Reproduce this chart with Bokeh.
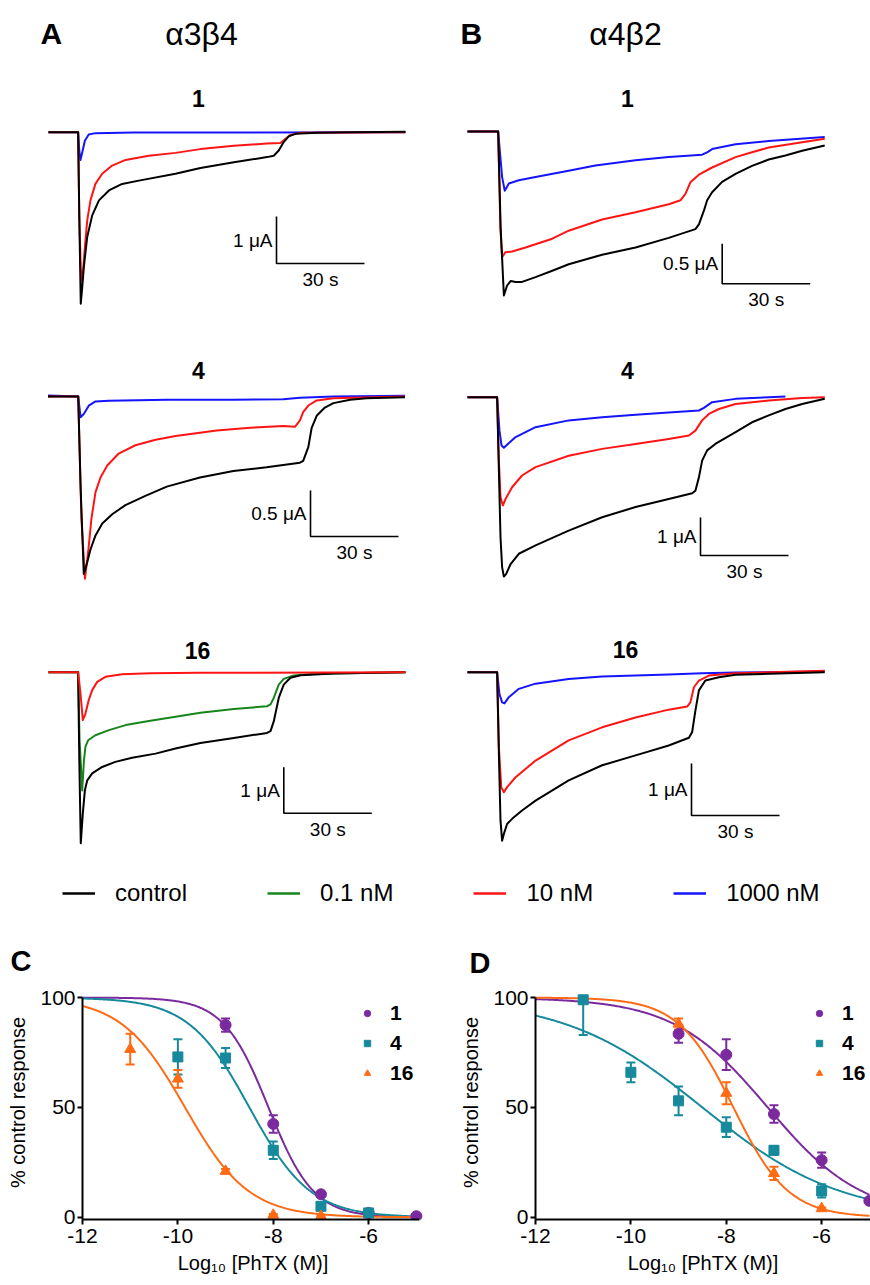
import numpy as np
from bokeh.plotting import figure
from bokeh.layouts import column, row
from bokeh.models import (Range1d, Label, Legend, LegendItem, Whisker, TeeHead,
                          ColumnDataSource, FixedTicker)
from bokeh.embed import file_html
from bokeh.resources import INLINE

FONT = "Liberation Sans"
COL = {"control": "#000000", "0.1 nM": "#17861a", "10 nM": "#ff1414", "1000 nM": "#1414ff"}
DR_COL = {"1": "#7b2a9e", "4": "#168a9c", "16": "#ff6a14"}

# ---------------- traces: time (s) and current (uA) ----------------
A1_control_t = [0, 10.1, 10.5, 11.0, 11.5, 12.05, 13.2, 14.9, 17.2, 20.6, 25.1, 30.8, 43.3, 51.8, 63.2, 74.5, 76.8, 78.5, 80.2, 81.9, 84.2, 91.6, 103, 121.7]
A1_control_i = [0, 0, -1.8, -3.65, -3.3, -2.87, -2.23, -1.77, -1.45, -1.24, -1.10, -1.03, -0.885, -0.76, -0.64, -0.53, -0.50, -0.39, -0.21, -0.09, -0.035, -0.014, 0, 0.01]
A1_10nM_t = [0, 10.1, 10.5, 11.0, 11.5, 12.4, 13.2, 14.3, 16.0, 18.3, 21.7, 26.3, 34.2, 43.3, 51.8, 63.2, 74.5, 79.1, 80.8, 82.5, 85.9, 121.7]
A1_10nM_i = [0, 0, -1.8, -2.9, -3.16, -2.45, -1.88, -1.45, -1.10, -0.885, -0.71, -0.59, -0.50, -0.44, -0.36, -0.29, -0.24, -0.23, -0.14, -0.057, -0.014, 0]
A1_1000nM_t = [0, 10.1, 10.5, 10.9, 11.5, 12.4, 13.7, 16.0, 29.1, 121.7]
A1_1000nM_i = [0, 0, -0.4, -0.59, -0.43, -0.18, -0.05, -0.02, -0.007, 0]

A2_control_t = [0, 10.3, 11.1, 12.2, 13.4, 14.5, 16.2, 18.5, 21.9, 26.4, 33.2, 40.5, 51.8, 63.2, 74.5, 85.9, 87.0, 88.75, 89.9, 91.6, 94.4, 97.3, 103, 108.6, 121.7]
A2_control_i = [0, 0, -0.97, -1.93, -1.80, -1.66, -1.51, -1.38, -1.28, -1.18, -1.08, -0.98, -0.88, -0.81, -0.77, -0.72, -0.70, -0.55, -0.34, -0.21, -0.12, -0.072, -0.036, -0.018, -0.007]
A2_10nM_t = [0, 10.3, 11.4, 12.6, 13.7, 14.8, 16.2, 17.9, 20.2, 24.1, 29.8, 36.7, 43.5, 57.5, 68.9, 80.2, 84.2, 85.9, 87.0, 88.75, 91.6, 97.3, 121.7]
A2_10nM_i = [0, 0, -1.33, -1.98, -1.69, -1.33, -1.04, -0.88, -0.75, -0.62, -0.53, -0.47, -0.43, -0.37, -0.34, -0.32, -0.33, -0.26, -0.17, -0.098, -0.043, -0.018, 0]
A2_1000nM_t = [0, 10.3, 11.1, 12.2, 13.9, 16.2, 20.7, 40.5, 63.2, 80.2, 85.9, 97.3, 121.7]
A2_1000nM_i = [0.01, 0, -0.225, -0.19, -0.10, -0.054, -0.045, -0.036, -0.036, -0.029, -0.014, 0, 0.007]

A3_control_t = [0, 10.1, 10.5, 11.0, 11.7, 12.4, 13.2, 14.9, 18.3, 22.8, 28.5, 36.5, 43.3, 51.8, 63.2, 74.5, 75.7, 76.8, 78.5, 80.2, 82.5, 85.9, 97.3, 121.7]
A3_control_i = [0, 0, -1.9, -3.72, -3.07, -2.57, -2.35, -2.20, -2.06, -1.95, -1.86, -1.77, -1.66, -1.54, -1.43, -1.32, -1.28, -1.07, -0.56, -0.27, -0.12, -0.065, -0.029, 0]
A3_01nM_t = [0, 10.1, 10.6, 11.5, 12.1, 12.6, 13.5, 16.0, 20.6, 26.3, 34.2, 43.3, 51.8, 63.2, 74.5, 75.7, 76.8, 78.5, 80.2, 83.6, 91.6, 121.7]
A3_01nM_i = [0, 0, -1.5, -2.57, -1.91, -1.62, -1.48, -1.37, -1.26, -1.15, -1.06, -0.97, -0.88, -0.80, -0.74, -0.70, -0.56, -0.27, -0.145, -0.072, -0.036, 0]
A3_10nM_t = [0, 10.1, 10.9, 11.7, 12.6, 13.7, 14.9, 16.6, 19.4, 25.1, 34.8, 51.8, 121.7]
A3_10nM_i = [0, 0, -0.46, -1.04, -0.90, -0.61, -0.39, -0.21, -0.10, -0.043, -0.025, -0.014, 0]

B1_control_t = [0, 10.45, 11.3, 12.4, 13.5, 14.7, 16.4, 18.6, 23.2, 28.9, 34.5, 45.9, 57.3, 68.6, 77.7, 78.9, 80.6, 81.7, 83.4, 86.8, 91.4, 97.0, 102.7, 108.4, 114.1, 121.8]
B1_control_i = [0, 0, -1.2, -2.05, -1.925, -1.87, -1.88, -1.88, -1.82, -1.74, -1.66, -1.54, -1.45, -1.33, -1.22, -1.16, -0.99, -0.86, -0.76, -0.63, -0.53, -0.43, -0.35, -0.30, -0.24, -0.175]
B1_10nM_t = [0, 10.45, 11.2, 11.8, 12.9, 15.2, 19.8, 28.9, 34.5, 45.9, 57.3, 68.6, 72.6, 74.3, 76.0, 78.9, 83.4, 91.4, 97.0, 102.7, 114.1, 121.8]
B1_10nM_i = [0, 0, -1.2, -1.57, -1.51, -1.50, -1.45, -1.34, -1.24, -1.10, -1.01, -0.91, -0.86, -0.78, -0.635, -0.54, -0.45, -0.32, -0.26, -0.20, -0.133, -0.092]
B1_1000nM_t = [0, 10.45, 11.8, 12.7, 14.1, 17.5, 23.2, 34.5, 43.6, 57.3, 68.6, 80.0, 81.7, 83.4, 91.4, 102.7, 121.8]
B1_1000nM_i = [0, 0, -0.57, -0.74, -0.65, -0.61, -0.57, -0.49, -0.425, -0.36, -0.32, -0.29, -0.26, -0.22, -0.16, -0.12, -0.07]

B2_control_t = [0, 10.1, 10.7, 11.25, 11.8, 12.4, 13.2, 14.7, 17.5, 23.2, 34.5, 45.9, 57.3, 68.6, 76.6, 77.7, 78.9, 80.0, 81.7, 84.5, 91.4, 97.0, 102.7, 108.4, 114.1, 121.8]
B2_control_i = [0, 0, -1.93, -3.68, -4.47, -4.72, -4.65, -4.39, -4.12, -3.90, -3.51, -3.16, -2.89, -2.68, -2.53, -2.46, -2.11, -1.67, -1.40, -1.23, -0.92, -0.66, -0.48, -0.31, -0.18, -0.04]
B2_10nM_t = [0, 10.1, 10.7, 11.25, 12.05, 12.95, 15.2, 18.6, 23.2, 34.5, 45.9, 57.3, 68.6, 75.5, 77.7, 80.0, 82.3, 85.7, 91.4, 102.7, 114.1, 121.8]
B2_10nM_i = [0, 0, -1.67, -2.63, -2.85, -2.68, -2.37, -2.06, -1.84, -1.54, -1.36, -1.23, -1.10, -1.01, -0.88, -0.61, -0.44, -0.31, -0.18, -0.088, -0.018, 0]
B2_1000nM_t = [0, 10.1, 10.9, 11.6, 12.4, 13.5, 16.4, 23.2, 34.5, 45.9, 57.3, 68.6, 78.9, 80.6, 83.4, 91.4, 102.7, 108.4]
B2_1000nM_i = [0, 0, -0.88, -1.27, -1.33, -1.25, -1.05, -0.79, -0.61, -0.53, -0.46, -0.40, -0.35, -0.28, -0.13, -0.044, 0, 0.018]

B3_control_t = [0, 10.1, 10.7, 11.25, 11.8, 12.4, 13.5, 15.2, 18.6, 23.2, 34.5, 45.9, 57.3, 68.6, 75.5, 76.6, 77.7, 78.9, 81.1, 85.7, 91.4, 102.7, 121.8]
B3_control_i = [0, 0, -1.57, -2.85, -3.24, -3.11, -2.92, -2.82, -2.66, -2.47, -2.08, -1.79, -1.60, -1.41, -1.26, -1.15, -0.74, -0.35, -0.16, -0.096, -0.051, -0.032, 0]
B3_10nM_t = [0, 10.1, 10.7, 11.5, 12.4, 13.5, 16.4, 23.2, 34.5, 45.9, 57.3, 68.6, 74.9, 76.0, 77.2, 78.9, 82.3, 91.4, 121.8]
B3_10nM_i = [0, 0, -1.44, -2.21, -2.31, -2.21, -2.02, -1.70, -1.31, -1.06, -0.87, -0.72, -0.66, -0.58, -0.29, -0.16, -0.064, -0.019, 0.03]
B3_1000nM_t = [0, 10.1, 10.9, 11.8, 12.6, 14.1, 17.5, 23.2, 34.5, 45.9, 57.3, 68.6, 80.0, 91.4, 121.8]
B3_1000nM_i = [0, 0, -0.42, -0.58, -0.60, -0.48, -0.32, -0.22, -0.13, -0.083, -0.064, -0.045, -0.019, -0.006, 0.013]

SCALE_BAR_S = 30
SCALE_BAR_UA = {"A1": 1, "A2": 0.5, "A3": 1, "B1": 0.5, "B2": 1, "B3": 1}
COMPOUND_TITLES = {"A1": "1", "A2": "4", "A3": "16", "B1": "1", "B2": "4", "B3": "16"}
LEGEND_LABELS = ["control", "0.1 nM", "10 nM", "1000 nM"]

# ---------------- concentration-response (C, D) ----------------
C_x_1 = [-9, -8, -7, -6, -5]
C_y_1 = [87.5, 42.5, 10.5, 2, 0.5]
C_e_1 = [3, 4, 1, 0.5, 0]
C_x_4 = [-10, -9, -8, -7, -6]
C_y_4 = [73, 72.5, 30.5, 5, 2]
C_e_4 = [8, 4.5, 4, 1, 0.5]
C_x_16 = [-11, -10, -9, -8, -7]
C_y_16 = [76.5, 63, 21, 1, 0.5]
C_e_16 = [7, 4, 1, 0.5, 0.5]
C_logIC50 = [-8.1, -8.5, -9.85]
C_hill = [0.92, 0.68, 0.65]

D_x_1 = [-9, -8, -7, -6, -5]
D_y_1 = [83.5, 74, 47, 26, 7.5]
D_e_1 = [4, 7, 4, 3.5, 0.5]
D_x_4 = [-11, -10, -9, -8, -7, -6]
D_y_4 = [99, 66, 53, 41, 30.5, 12]
D_e_4 = [16, 4.5, 6.5, 4.5, 2, 3]
D_x_16 = [-9, -8, -7, -6]
D_y_16 = [88, 56.5, 20, 4]
D_e_16 = [2.5, 5, 3, 0.5]
D_logIC50 = [-7.13, -8.5, -7.85]
D_hill = [0.44, 0.30, 0.755]

X_TICKS = [-12, -10, -8, -6]
X_TICK_LABELS = ["-12", "-10", "-8", "-6"]
Y_TICKS = [0, 50, 100]

# ---------------- layout specs (page pixels) ----------------
PPS = 2.933
SPEC = {
    "A1": dict(left=0, top=0, w=435, h=320, t0=48, yb=131.7, ppu=47,
               bar=(276, 263), title=(198, 98)),
    "B1": dict(left=435, top=0, w=435, h=320, t0=467, yb=131, ppu=80,
               bar=(721.7, 283.3), title=(627, 98)),
    "A2": dict(left=0, top=320, w=435, h=285, t0=47.5, yb=396, ppu=92,
               bar=(310, 536), title=(198, 370)),
    "B2": dict(left=435, top=320, w=435, h=285, t0=467, yb=396.7, ppu=38,
               bar=(700, 555), title=(627, 370)),
    "A3": dict(left=0, top=605, w=435, h=255, t0=48, yb=671.7, ppu=46,
               bar=(283.3, 812.7), title=(197, 650)),
    "B3": dict(left=435, top=605, w=435, h=255, t0=467, yb=671.7, ppu=52,
               bar=(691, 815), title=(625, 649)),
}
TRACES = {
    "A1": [(A1_1000nM_t, A1_1000nM_i, "1000 nM"), (A1_10nM_t, A1_10nM_i, "10 nM"), (A1_control_t, A1_control_i, "control")],
    "A2": [(A2_1000nM_t, A2_1000nM_i, "1000 nM"), (A2_10nM_t, A2_10nM_i, "10 nM"), (A2_control_t, A2_control_i, "control")],
    "A3": [(A3_01nM_t, A3_01nM_i, "0.1 nM"), (A3_control_t, A3_control_i, "control"), (A3_10nM_t, A3_10nM_i, "10 nM")],
    "B1": [(B1_1000nM_t, B1_1000nM_i, "1000 nM"), (B1_10nM_t, B1_10nM_i, "10 nM"), (B1_control_t, B1_control_i, "control")],
    "B2": [(B2_1000nM_t, B2_1000nM_i, "1000 nM"), (B2_10nM_t, B2_10nM_i, "10 nM"), (B2_control_t, B2_control_i, "control")],
    "B3": [(B3_1000nM_t, B3_1000nM_i, "1000 nM"), (B3_10nM_t, B3_10nM_i, "10 nM"), (B3_control_t, B3_control_i, "control")],
}
HEADERS = {"A1": [("A", 40, 33, "left", "bold", "30px"), ("α3β4", 201, 33, "center", "normal", "32px")],
           "B1": [("B", 460, 33, "left", "bold", "30px"), ("α4β2", 625, 33, "center", "normal", "32px")]}


def trace_fig(key):
    s = SPEC[key]
    def dx(X):
        return (X - s["t0"]) / PPS
    def dy(Y):
        return (s["yb"] - Y) / s["ppu"]
    p = figure(width=s["w"], height=s["h"],
               x_range=Range1d(dx(s["left"]), dx(s["left"] + s["w"])),
               y_range=Range1d(dy(s["top"] + s["h"]), dy(s["top"])),
               x_axis_type=None, y_axis_type=None, toolbar_location=None,
               output_backend="svg", min_border=0)
    p.outline_line_color = None
    for t, i, name in TRACES[key]:
        p.line(t, i, line_color=COL[name], line_width=2, line_join="round")
    bx, by = dx(s["bar"][0]), dy(s["bar"][1])
    ua = SCALE_BAR_UA[key]
    p.line([bx, bx, bx + SCALE_BAR_S], [by + ua, by, by], line_color="black", line_width=1.6)
    p.add_layout(Label(x=bx - 4 / PPS, y=by + ua / 2, text="%g μA" % ua, text_align="right",
                       text_baseline="middle", text_font=FONT, text_font_size="19px",
                       text_color="black"))
    p.add_layout(Label(x=bx + SCALE_BAR_S / 2, y=by - 16 / s["ppu"], text="%d s" % SCALE_BAR_S,
                       text_align="center", text_baseline="middle", text_font=FONT,
                       text_font_size="19px", text_color="black"))
    tx, ty = s["title"]
    p.add_layout(Label(x=dx(tx), y=dy(ty), text=COMPOUND_TITLES[key], text_align="center",
                       text_baseline="middle", text_font=FONT, text_font_style="bold",
                       text_font_size="23px", text_color="black"))
    for text, hx, hy, al, st, fs in HEADERS.get(key, []):
        p.add_layout(Label(x=dx(hx), y=dy(hy), text=text, text_align=al, text_baseline="middle",
                           text_font=FONT, text_font_style=st, text_font_size=fs,
                           text_color="black"))
    return p


def legend_fig():
    W, H = 870, 125   # page y 860 .. 985
    p = figure(width=W, height=H, x_range=Range1d(0, W), y_range=Range1d(0, H),
               x_axis_type=None, y_axis_type=None, toolbar_location=None,
               output_backend="svg", min_border=0)
    p.outline_line_color = None
    items = []
    for lab in LEGEND_LABELS:
        # legend key only: the line lies outside the visible range
        r = p.line(x=[-50, -40], y=[-50, -40], line_color=COL[lab], line_width=2.5)
        items.append(LegendItem(label=lab, renderers=[r]))
    leg = Legend(items=items, orientation="horizontal", location=(62, 77),
                 glyph_width=33, glyph_height=30, label_height=30, label_standoff=20,
                 spacing=80, padding=0, margin=0, label_text_font=FONT,
                 label_text_font_size="24px", label_text_color="black",
                 border_line_alpha=0, background_fill_alpha=0)
    p.add_layout(leg)
    for txt, X, Y in (("C", 10, 960), ("D", 469, 962)):
        p.add_layout(Label(x=X, y=985 - Y, text=txt, text_align="left", text_baseline="middle",
                           text_font=FONT, text_font_style="bold", text_font_size="29px",
                           text_color="black"))
    return p


def dr_fig(xs, ys, es, logic, hill, frame_w, x_end, b_left, b_right, axis_end, leg_loc):
    fh = 234
    y0, y1 = -1.0, 105.5
    p = figure(frame_width=frame_w, frame_height=fh, x_range=Range1d(-12, x_end),
               y_range=Range1d(y0, y1), min_border_left=b_left, min_border_right=b_right,
               min_border_top=0, min_border_bottom=300 - fh,
               toolbar_location=None, output_backend="svg")
    p.outline_line_color = None
    p.grid.visible = False
    xf = np.linspace(-12, -5, 300)
    names = ["1", "4", "16"]
    markers = ["circle", "square", "triangle"]
    sizes = [11, 10, 11]
    rends = []
    for k, nm in enumerate(names):
        yf = 100.0 / (1.0 + 10 ** ((xf - logic[k]) * hill[k]))
        p.line(xf, yf, line_color=DR_COL[nm], line_width=2)
    for k, nm in enumerate(names):
        c = DR_COL[nm]
        x = np.array(xs[k], float); y = np.array(ys[k], float); e = np.array(es[k], float)
        src = ColumnDataSource(dict(x=x, y=y, lo=y - e, hi=np.minimum(y + e, 100)))
        p.add_layout(Whisker(base="x", upper="hi", lower="lo", source=src, line_color=c,
                             line_width=2,
                             upper_head=TeeHead(size=9, line_color=c, line_width=2),
                             lower_head=TeeHead(size=9, line_color=c, line_width=2)))
        r = p.scatter("x", "y", source=src, marker=markers[k], size=sizes[k],
                      fill_color=c, line_color=c)
        rends.append(r)
    leg = Legend(items=[LegendItem(label=nm, renderers=[r]) for nm, r in zip(names, rends)],
                 location=leg_loc, glyph_width=16, glyph_height=24, label_height=24,
                 spacing=6, padding=0, margin=0, label_standoff=15, label_text_font=FONT,
                 label_text_font_style="bold", label_text_font_size="21px",
                 label_text_color="black", border_line_alpha=0, background_fill_alpha=0)
    p.add_layout(leg)
    ax = p.xaxis[0]; ay = p.yaxis[0]
    ax.ticker = FixedTicker(ticks=X_TICKS)
    ax.major_label_overrides = {t: s for t, s in zip(X_TICKS, X_TICK_LABELS)}
    ay.ticker = FixedTicker(ticks=Y_TICKS)
    ax.bounds = (-12, axis_end)
    ay.bounds = (y0, 100)
    for a in (ax, ay):
        a.axis_line_width = 2
        a.major_tick_line_width = 2
        a.major_tick_out = 5
        a.major_tick_in = 0
        a.minor_tick_line_color = None
        a.major_label_text_font = FONT
        a.major_label_text_font_size = "21px"
        a.major_label_text_color = "black"
        a.axis_label_text_font = FONT
        a.axis_label_text_font_size = "20px"
        a.axis_label_text_font_style = "normal"
        a.axis_label_text_color = "black"
    ax.axis_label = "Log₁₀ [PhTX (M)]"
    ay.axis_label = "% control response"
    ax.major_label_standoff = 4
    ax.axis_label_standoff = 6
    ay.major_label_standoff = 2
    ay.axis_label_standoff = 8
    return p


figC = dr_fig([C_x_1, C_x_4, C_x_16], [C_y_1, C_y_4, C_y_16], [C_e_1, C_e_4, C_e_16],
              C_logIC50, C_hill, 341, -4.85, 82, 12, -4.93, (277, 134))
figD = dr_fig([D_x_1, D_x_4, D_x_16], [D_y_1, D_y_4, D_y_16], [D_e_1, D_e_4, D_e_16],
              D_logIC50, D_hill, 335, -4.976, 100, 0, -4.976, (276, 134))

page = column(
    row(trace_fig("A1"), trace_fig("B1")),
    row(trace_fig("A2"), trace_fig("B2")),
    row(trace_fig("A3"), trace_fig("B3")),
    legend_fig(),
    row(figC, figD),
)

open("out.html", "w").write(file_html(page, INLINE))
